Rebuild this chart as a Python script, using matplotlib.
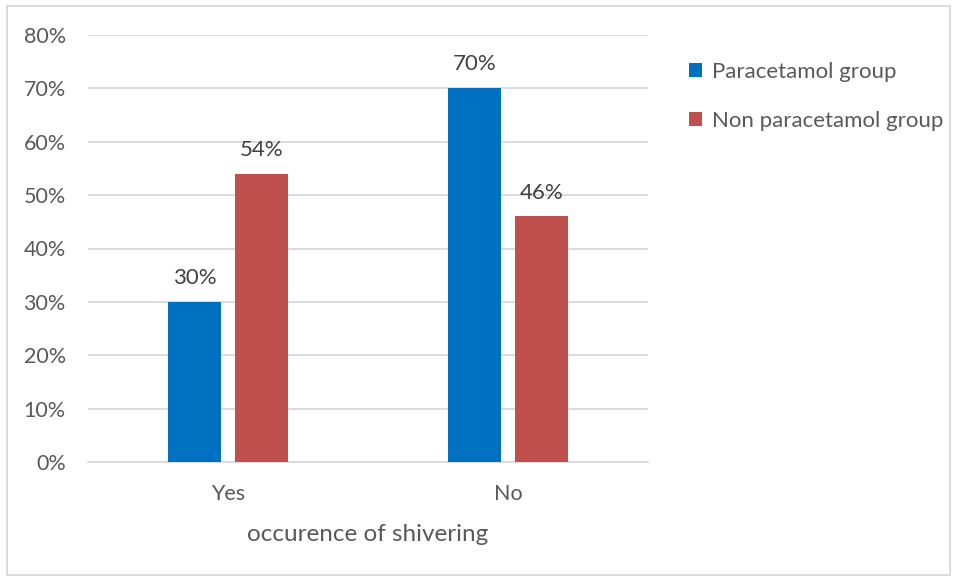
import matplotlib.pyplot as plt
import numpy as np
from matplotlib.patches import Rectangle

plt.rcParams['font.family'] = ['Lato', 'DejaVu Sans']

categories = ['Yes', 'No']
paracetamol = [30, 70]
non_paracetamol = [54, 46]
series_names = ['Paracetamol group', 'Non paracetamol group']
yticks = [0, 10, 20, 30, 40, 50, 60, 70, 80]

text_color = '#595959'
grid_color = '#d9d9d9'
blue = '#0070C0'
red = '#C0504D'

fig = plt.figure(figsize=(9.57, 5.78), dpi=100)
ax = fig.add_axes([88 / 957, 1 - 462 / 578, (648 - 88) / 957, (462 - 35) / 578])

x = np.arange(len(categories))
w = 0.19
off = 0.12
b1 = ax.bar(x - off, paracetamol, w, color=blue, label=series_names[0], zorder=3)
b2 = ax.bar(x + off, non_paracetamol, w, color=red, label=series_names[1], zorder=3)

# value labels above each bar
for bars, vals in [(b1, paracetamol), (b2, non_paracetamol)]:
    for rect, v in zip(bars, vals):
        ax.annotate(f'{v}%', (rect.get_x() + rect.get_width() / 2, v),
                    xytext=(0, 10), textcoords='offset points',
                    ha='center', va='bottom', fontsize=16, color='#404040')

ax.set_xlim(-0.5, 1.5)
ax.set_ylim(0, 80)
ax.set_yticks(yticks)
ax.set_yticklabels([f'{t}%' for t in yticks])
ax.set_xticks(x)
ax.set_xticklabels(categories)
ax.tick_params(axis='both', length=0, colors=text_color, labelsize=15.5)
ax.tick_params(axis='y', pad=16)
ax.tick_params(axis='x', pad=16)
ax.grid(axis='y', color=grid_color, linewidth=1.3, zorder=0)
for s in ['top', 'right', 'left']:
    ax.spines[s].set_visible(False)
ax.spines['bottom'].set_color(grid_color)
ax.spines['bottom'].set_linewidth(1.3)
ax.set_xlabel('occurence of shivering', fontsize=17.5, color=text_color, labelpad=14)

leg = ax.legend(loc='upper left', bbox_to_anchor=(669 / 957, 1 - 42 / 578),
                bbox_transform=fig.transFigure, frameon=False, fontsize=16,
                handlelength=0.6, handleheight=0.6, handletextpad=0.45,
                labelspacing=1.3)
for t in leg.get_texts():
    t.set_color(text_color)

# light border round the whole chart
fig.patches.append(Rectangle((7 / 957, 3 / 578), 943 / 957, 569 / 578,
                             transform=fig.transFigure, fill=False,
                             edgecolor=grid_color, linewidth=1.3))

fig.savefig('out.png', dpi=100)
